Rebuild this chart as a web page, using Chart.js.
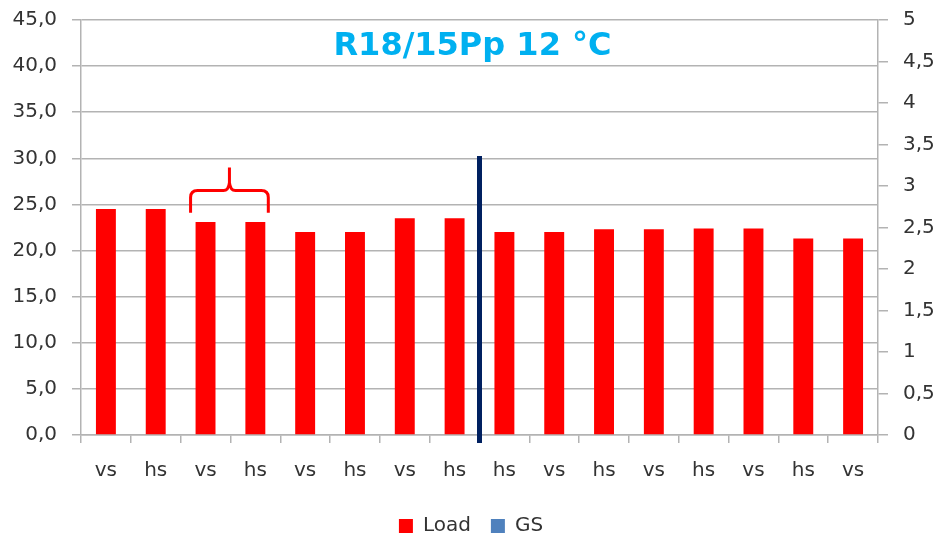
<!DOCTYPE html>
<html>
<head>
<meta charset="utf-8">
<script src="https://cdn.jsdelivr.net/npm/chart.js@4/dist/chart.umd.min.js"></script>
<style>
  html, body { margin: 0; padding: 0; background: #fff; }
</style>
</head>
<body>
<canvas id="chart" width="942" height="539"></canvas>
<script>
const labels = ["vs", "hs", "vs", "hs", "vs", "hs", "vs", "hs", "hs", "vs", "hs", "vs", "hs", "vs", "hs", "vs"];
const loadValues = [24.5, 24.5, 23.1, 23.1, 22.0, 22.0, 23.5, 23.5, 22.0, 22.0, 22.3, 22.3, 22.4, 22.4, 21.3, 21.3];
const gsValues = [];
const leftAxis = { min: 0, max: 45, step: 5 };
const rightAxis = { min: 0, max: 5, step: 0.5 };
const titleText = "R18/15Pp 12 °C";

// divider between the two groups, and the brace over bars 3-4
const splitAfterIndex = 7;
const splitTopValue = 30.25;
const brace = { from: 2, to: 3, tip: 29.0, mid: 26.5, end: 24.1 };

const gray = "#b3b3b3";
const textColor = "#333333";
const font = "DejaVu Sans";

const extras = {
  id: "extras",
  afterDatasetsDraw(chart) {
    const { ctx, chartArea, scales } = chart;
    const x = scales.x, y = scales.y;
    const bars = chart.getDatasetMeta(0).data;

    // title inside plot
    ctx.save();
    ctx.fillStyle = "#00b0f0";
    ctx.font = "bold 32px '" + font + "'";
    ctx.textAlign = "center";
    ctx.textBaseline = "alphabetic";
    ctx.fillText(titleText, (chartArea.left + chartArea.right) / 2 - 7, y.getPixelForValue(41.2));
    ctx.restore();

    // dark vertical divider
    const xs = (x.getPixelForValue(splitAfterIndex) + x.getPixelForValue(splitAfterIndex + 1)) / 2;
    ctx.save();
    ctx.strokeStyle = "#002060";
    ctx.lineWidth = 5;
    ctx.beginPath();
    ctx.moveTo(xs, y.getPixelForValue(splitTopValue));
    ctx.lineTo(xs, chartArea.bottom + 8);
    ctx.stroke();
    ctx.restore();

    // red curly brace
    const b0 = bars[brace.from], b1 = bars[brace.to];
    const x0 = b0.x - b0.width / 2 - 5;
    const x1 = b1.x + b1.width / 2 + 3;
    const xm = (x0 + x1) / 2;
    const yTip = y.getPixelForValue(brace.tip);
    const yMid = y.getPixelForValue(brace.mid);
    const yEnd = y.getPixelForValue(brace.end);
    const r = 7;
    ctx.save();
    ctx.strokeStyle = "#ff0000";
    ctx.lineWidth = 3;
    ctx.lineJoin = "round";
    ctx.beginPath();
    ctx.moveTo(x0, yEnd);
    ctx.lineTo(x0, yMid + r);
    ctx.quadraticCurveTo(x0, yMid, x0 + r, yMid);
    ctx.lineTo(xm - 6, yMid);
    ctx.quadraticCurveTo(xm - 1, yMid, xm, yMid - 8);
    ctx.lineTo(xm, yTip);
    ctx.moveTo(xm, yMid - 8);
    ctx.quadraticCurveTo(xm + 1, yMid, xm + 6, yMid);
    ctx.lineTo(x1 - r, yMid);
    ctx.quadraticCurveTo(x1, yMid, x1, yMid + r);
    ctx.lineTo(x1, yEnd);
    ctx.stroke();
    ctx.restore();
  }
};

// fixed axis widths, no extra top/bottom padding from the tick labels
const fitY = w => s => { s.width = w; s.paddingTop = 0; s.paddingBottom = 0; };

new Chart(document.getElementById("chart"), {
  type: "bar",
  data: {
    labels: labels,
    datasets: [
      {
        label: "Load",
        data: loadValues,
        backgroundColor: "#ff0000",
        borderWidth: 0,
        yAxisID: "y",
        grouped: false,
        categoryPercentage: 1,
        barPercentage: 0.4
      },
      {
        label: "GS",
        data: gsValues,
        backgroundColor: "#4f81bd",
        borderWidth: 0,
        yAxisID: "y1",
        grouped: false,
        categoryPercentage: 1,
        barPercentage: 0.4
      }
    ]
  },
  options: {
    responsive: false,
    animation: false,
    layout: { padding: { top: 20, left: 0, right: 0, bottom: -7 } },
    plugins: {
      legend: {
        position: "bottom",
        labels: {
          boxWidth: 14,
          boxHeight: 14,
          padding: 20,
          color: textColor,
          font: { family: font, size: 20 }
        }
      },
      tooltip: { enabled: false }
    },
    scales: {
      x: {
        grid: { offset: true, drawOnChartArea: false, color: gray, lineWidth: 1.5, tickLength: 8 },
        border: { color: gray, width: 1.5 },
        ticks: { color: textColor, font: { family: font, size: 20 }, padding: 16, maxRotation: 0, autoSkip: false },
        afterFit: s => { s.height = 61; s.paddingLeft = 0; s.paddingRight = 0; }
      },
      y: {
        position: "left",
        min: leftAxis.min,
        max: leftAxis.max,
        grid: { color: gray, lineWidth: 1.5, tickLength: 9 },
        border: { color: gray, width: 1.5 },
        ticks: {
          stepSize: leftAxis.step,
          color: textColor,
          font: { family: font, size: 20 },
          padding: 15,
          callback: v => v.toFixed(1).replace(".", ",")
        },
        afterFit: fitY(81)
      },
      y1: {
        position: "right",
        min: rightAxis.min,
        max: rightAxis.max,
        grid: { drawOnChartArea: false, color: gray, lineWidth: 1.5, tickLength: 10 },
        border: { color: gray, width: 1.5 },
        ticks: {
          stepSize: rightAxis.step,
          color: textColor,
          font: { family: font, size: 20 },
          padding: 15,
          callback: v => String(v).replace(".", ",")
        },
        afterFit: fitY(64)
      }
    }
  },
  plugins: [extras]
});
</script>
</body>
</html>
